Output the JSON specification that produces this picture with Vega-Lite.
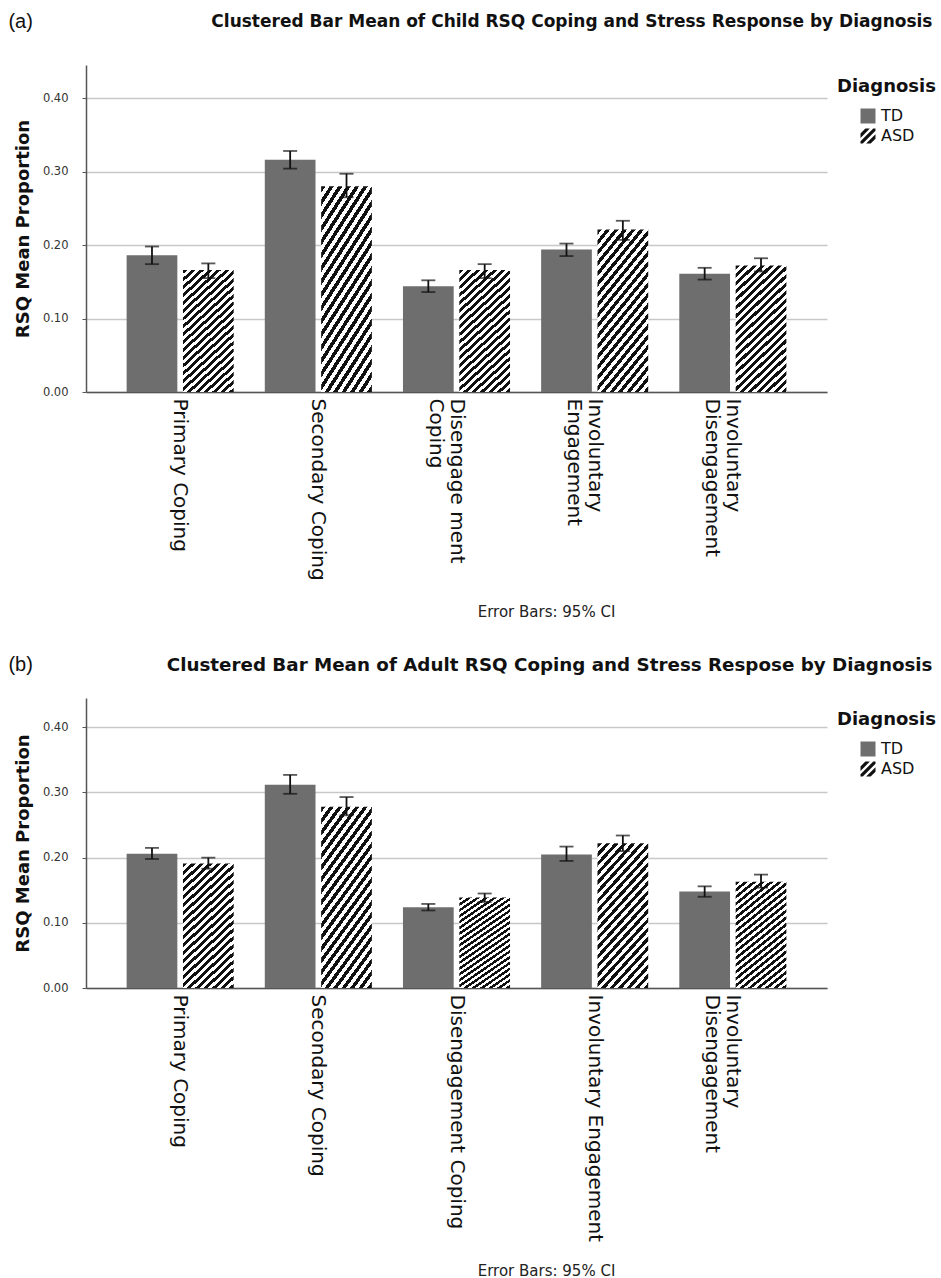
{
  "$schema": "https://vega.github.io/schema/vega-lite/v6.json",
  "background": "white",
  "padding": {"left": 8, "top": 12, "right": 0, "bottom": 0},
  "autosize": {"type": "pad"},
  "spacing": 36,
  "config": {
    "view": {"stroke": null},
    "font": "DejaVu Sans",
    "axisLeft": {"titleFontSize": 18, "titleFontWeight": "bold", "titleColor": "#111", "titlePadding": 10, "labelFontSize": 11.5, "labelColor": "#333", "labelPadding": 14, "tickSize": 4, "tickColor": "#555", "domainColor": "#555", "domainWidth": 1.5, "grid": true, "gridColor": "#c8c8c8", "gridWidth": 1.6},
    "axisBottom": {"titleFontSize": 15, "titleFontWeight": "normal", "titleColor": "#222", "titleAlign": "center", "titleBaseline": "alphabetic", "titleX": 460, "labelAngle": 90, "labelAlign": "left", "labelBaseline": "middle", "labelFontSize": 20, "labelColor": "#111", "labelLimit": 0, "labelPadding": 6, "labelLineHeight": 21, "ticks": false, "domainColor": "#555", "domainWidth": 1.5, "grid": false},
    "axisTop": {"labels": false, "ticks": false, "domain": false, "grid": false, "titleFontWeight": "bold", "titleColor": "#111", "titleAlign": "right", "titleBaseline": "alphabetic", "titleX": 846},
    "legend": {"orient": "none", "legendX": 751, "legendY": 13, "titleFontSize": 18, "titleFontWeight": "bold", "titleColor": "#111", "titlePadding": 12, "labelFontSize": 16, "labelColor": "#111", "symbolSize": 225, "symbolStrokeWidth": 0, "symbolOffset": 23, "labelOffset": 5, "rowPadding": 4, "padding": 0}
  },
  "resolve": {"scale": {"fill": "independent", "shape": "independent", "x": "independent", "y": "independent", "xOffset": "independent"}, "legend": {"fill": "independent", "shape": "independent"}},
  "datasets": {
    "child": [
      {"Category":"Primary Coping","Diagnosis":"TD","mean":0.186,"lo":0.174,"hi":0.198},
      {"Category":"Primary Coping","Diagnosis":"ASD","mean":0.166,"lo":0.155,"hi":0.175},
      {"Category":"Secondary Coping","Diagnosis":"TD","mean":0.316,"lo":0.304,"hi":0.328},
      {"Category":"Secondary Coping","Diagnosis":"ASD","mean":0.280,"lo":0.265,"hi":0.297},
      {"Category":"Disengagement Coping","Diagnosis":"TD","mean":0.144,"lo":0.136,"hi":0.152},
      {"Category":"Disengagement Coping","Diagnosis":"ASD","mean":0.166,"lo":0.155,"hi":0.174},
      {"Category":"Involuntary Engagement","Diagnosis":"TD","mean":0.194,"lo":0.185,"hi":0.202},
      {"Category":"Involuntary Engagement","Diagnosis":"ASD","mean":0.221,"lo":0.207,"hi":0.233},
      {"Category":"Involuntary Disengagement","Diagnosis":"TD","mean":0.161,"lo":0.153,"hi":0.169},
      {"Category":"Involuntary Disengagement","Diagnosis":"ASD","mean":0.172,"lo":0.164,"hi":0.182}
    ],
    "adult": [
      {"Category":"Primary Coping","Diagnosis":"TD","mean":0.206,"lo":0.198,"hi":0.215},
      {"Category":"Primary Coping","Diagnosis":"ASD","mean":0.191,"lo":0.183,"hi":0.200},
      {"Category":"Secondary Coping","Diagnosis":"TD","mean":0.312,"lo":0.298,"hi":0.327},
      {"Category":"Secondary Coping","Diagnosis":"ASD","mean":0.278,"lo":0.265,"hi":0.293},
      {"Category":"Disengagement Coping","Diagnosis":"TD","mean":0.124,"lo":0.119,"hi":0.129},
      {"Category":"Disengagement Coping","Diagnosis":"ASD","mean":0.139,"lo":0.132,"hi":0.145},
      {"Category":"Involuntary Engagement","Diagnosis":"TD","mean":0.205,"lo":0.195,"hi":0.217},
      {"Category":"Involuntary Engagement","Diagnosis":"ASD","mean":0.222,"lo":0.210,"hi":0.234},
      {"Category":"Involuntary Disengagement","Diagnosis":"TD","mean":0.148,"lo":0.140,"hi":0.156},
      {"Category":"Involuntary Disengagement","Diagnosis":"ASD","mean":0.163,"lo":0.154,"hi":0.174}
    ]
  },
  "vconcat": [
    {
      "title": {"text": "(a)", "anchor": "start", "frame": "bounds", "font": "Liberation Sans", "fontSize": 20, "fontWeight": "normal", "color": "#111", "offset": -20, "dx": -6},
      "width": 741,
      "height": 327,
      "data": {"name": "child"},
      "encoding": {
        "x": {"field": "Category", "type": "nominal", "sort": ["Primary Coping","Secondary Coping","Disengagement Coping","Involuntary Engagement","Involuntary Disengagement"], "scale": {"paddingInner": 0.225, "paddingOuter": 0.294}, "axis": null},
        "xOffset": {"field": "Diagnosis", "type": "nominal", "sort": ["TD","ASD"], "scale": {"domain": ["TD","ASD"], "paddingInner": 0.1, "paddingOuter": 0}}
      },
      "layer": [
        {
          "transform": [{"filter": "datum.Diagnosis === 'TD'"}],
          "mark": {"type": "bar"},
          "encoding": {
            "x": {"field": "Category", "type": "nominal", "sort": ["Primary Coping","Secondary Coping","Disengagement Coping","Involuntary Engagement","Involuntary Disengagement"], "scale": {"paddingInner": 0.225, "paddingOuter": 0.294},
              "axis": {"orient": "bottom", "title": "Error Bars: 95% CI", "titleY": 224,
                "labelExpr": "datum.label === 'Disengagement Coping' ? ['Disengage ment', 'Coping'] : datum.label === 'Involuntary Engagement' ? ['Involuntary', 'Engagement'] : datum.label === 'Involuntary Disengagement' ? ['Involuntary', 'Disengagement'] : datum.label"}},
            "y": {"field": "mean", "type": "quantitative", "scale": {"domain": [0, 0.445], "nice": false},
              "axis": {"title": "RSQ Mean Proportion", "values": [0, 0.1, 0.2, 0.3, 0.4], "format": ".2f"}},
            "fill": {"field": "Diagnosis", "type": "nominal", "scale": {"domain": ["TD","ASD"], "range": ["#6e6e6e", "#111111"]}, "legend": {"title": "Diagnosis"}}
          }
        },
        {
          "transform": [{"filter": "datum.Diagnosis === 'ASD'"}],
          "mark": {"type": "bar", "fill": {
          "gradient": "linear", "x1": 0, "y1": 0, "x2": 1, "y2": 2.6,
          "stops": [{"offset":0,"color":"#111"},{"offset":0.01075,"color":"#111"},{"offset":0.01075,"color":"#fff"},{"offset":0.0215,"color":"#fff"},
{"offset":0.0215,"color":"#111"},{"offset":0.03225,"color":"#111"},{"offset":0.03225,"color":"#fff"},{"offset":0.043,"color":"#fff"},
{"offset":0.043,"color":"#111"},{"offset":0.05375,"color":"#111"},{"offset":0.05375,"color":"#fff"},{"offset":0.0645,"color":"#fff"},
{"offset":0.0645,"color":"#111"},{"offset":0.07525,"color":"#111"},{"offset":0.07525,"color":"#fff"},{"offset":0.086,"color":"#fff"},
{"offset":0.086,"color":"#111"},{"offset":0.09675,"color":"#111"},{"offset":0.09675,"color":"#fff"},{"offset":0.1075,"color":"#fff"},
{"offset":0.1075,"color":"#111"},{"offset":0.11825,"color":"#111"},{"offset":0.11825,"color":"#fff"},{"offset":0.129,"color":"#fff"},
{"offset":0.129,"color":"#111"},{"offset":0.13975,"color":"#111"},{"offset":0.13975,"color":"#fff"},{"offset":0.1505,"color":"#fff"},
{"offset":0.1505,"color":"#111"},{"offset":0.16125,"color":"#111"},{"offset":0.16125,"color":"#fff"},{"offset":0.172,"color":"#fff"},
{"offset":0.172,"color":"#111"},{"offset":0.18275,"color":"#111"},{"offset":0.18275,"color":"#fff"},{"offset":0.1935,"color":"#fff"},
{"offset":0.1935,"color":"#111"},{"offset":0.20425,"color":"#111"},{"offset":0.20425,"color":"#fff"},{"offset":0.215,"color":"#fff"},
{"offset":0.215,"color":"#111"},{"offset":0.22575,"color":"#111"},{"offset":0.22575,"color":"#fff"},{"offset":0.2365,"color":"#fff"},
{"offset":0.2365,"color":"#111"},{"offset":0.24725,"color":"#111"},{"offset":0.24725,"color":"#fff"},{"offset":0.258,"color":"#fff"},
{"offset":0.258,"color":"#111"},{"offset":0.26875,"color":"#111"},{"offset":0.26875,"color":"#fff"},{"offset":0.2795,"color":"#fff"},
{"offset":0.2795,"color":"#111"},{"offset":0.29025,"color":"#111"},{"offset":0.29025,"color":"#fff"},{"offset":0.301,"color":"#fff"},
{"offset":0.301,"color":"#111"},{"offset":0.31175,"color":"#111"},{"offset":0.31175,"color":"#fff"},{"offset":0.3225,"color":"#fff"},
{"offset":0.3225,"color":"#111"},{"offset":0.33325,"color":"#111"},{"offset":0.33325,"color":"#fff"},{"offset":0.344,"color":"#fff"},
{"offset":0.344,"color":"#111"},{"offset":0.35475,"color":"#111"},{"offset":0.35475,"color":"#fff"},{"offset":0.3655,"color":"#fff"},
{"offset":0.3655,"color":"#111"},{"offset":0.37625,"color":"#111"},{"offset":0.37625,"color":"#fff"},{"offset":0.387,"color":"#fff"},
{"offset":0.387,"color":"#111"},{"offset":0.39775,"color":"#111"},{"offset":0.39775,"color":"#fff"},{"offset":0.4085,"color":"#fff"},
{"offset":0.4085,"color":"#111"},{"offset":0.41925,"color":"#111"},{"offset":0.41925,"color":"#fff"},{"offset":0.43,"color":"#fff"},
{"offset":0.43,"color":"#111"},{"offset":0.44075,"color":"#111"},{"offset":0.44075,"color":"#fff"},{"offset":0.4515,"color":"#fff"},
{"offset":0.4515,"color":"#111"},{"offset":0.46225,"color":"#111"},{"offset":0.46225,"color":"#fff"},{"offset":0.473,"color":"#fff"}]
          }},
          "encoding": {"y": {"field": "mean", "type": "quantitative", "scale": {"domain": [0, 0.445], "nice": false}, "axis": {"title": "RSQ Mean Proportion", "values": [0, 0.1, 0.2, 0.3, 0.4], "format": ".2f"}}}
        },
        {
          "transform": [{"filter": "false"}],
          "mark": {"type": "point", "filled": true, "opacity": 1},
          "encoding": {
            "y": {"field": "mean", "type": "quantitative", "scale": {"domain": [0, 0.445], "nice": false}, "axis": {"title": "RSQ Mean Proportion", "values": [0, 0.1, 0.2, 0.3, 0.4], "format": ".2f"}},
            "fill": {"field": "Diagnosis", "type": "nominal", "scale": {"domain": ["TD","ASD"], "range": ["#6e6e6e", "#111111"]}, "legend": {"title": "Diagnosis"}},
            "shape": {"field": "Diagnosis", "type": "nominal", "scale": {"domain": ["TD","ASD"], "range": ["square", "M-1,-0.35L-0.35,-1L0.25,-1L-1,0.25Z M0.7,-1L1,-1L1,-0.7L-0.7,1L-1,1L-1,0.7Z M1,-0.25L1,0.35L0.35,1L-0.25,1Z"]}, "legend": {"title": "Diagnosis"}}
          }
        },
        {
          "mark": {"type": "rule", "color": "#111", "strokeWidth": 1.8},
          "encoding": {
            "x": {"field": "Category", "type": "nominal", "sort": ["Primary Coping","Secondary Coping","Disengagement Coping","Involuntary Engagement","Involuntary Disengagement"], "scale": {"paddingInner": 0.225, "paddingOuter": 0.294},
              "axis": {"orient": "top", "title": "Clustered Bar Mean of Child RSQ Coping and Stress Response by Diagnosis", "titleFontSize": 17, "titleY": -39}},
            "y": {"field": "lo", "type": "quantitative", "scale": {"domain": [0, 0.445], "nice": false}, "axis": {"title": "RSQ Mean Proportion", "values": [0, 0.1, 0.2, 0.3, 0.4], "format": ".2f"}},
            "y2": {"field": "hi"}
          }
        },
        {
          "transform": [{"fold": ["lo", "hi"], "as": ["end", "val"]}],
          "mark": {"type": "tick", "color": "#111", "thickness": 1.8, "size": 14},
          "encoding": {"y": {"field": "val", "type": "quantitative", "scale": {"domain": [0, 0.445], "nice": false}, "axis": {"title": "RSQ Mean Proportion", "values": [0, 0.1, 0.2, 0.3, 0.4], "format": ".2f"}}}
        }
      ]
    },
    {
      "title": {"text": "(b)", "anchor": "start", "frame": "bounds", "font": "Liberation Sans", "fontSize": 20, "fontWeight": "normal", "color": "#111", "offset": -20, "dx": -6},
      "width": 741,
      "height": 290,
      "data": {"name": "adult"},
      "encoding": {
        "x": {"field": "Category", "type": "nominal", "sort": ["Primary Coping","Secondary Coping","Disengagement Coping","Involuntary Engagement","Involuntary Disengagement"], "scale": {"paddingInner": 0.225, "paddingOuter": 0.294}, "axis": null},
        "xOffset": {"field": "Diagnosis", "type": "nominal", "sort": ["TD","ASD"], "scale": {"domain": ["TD","ASD"], "paddingInner": 0.1, "paddingOuter": 0}}
      },
      "layer": [
        {
          "transform": [{"filter": "datum.Diagnosis === 'TD'"}],
          "mark": {"type": "bar"},
          "encoding": {
            "x": {"field": "Category", "type": "nominal", "sort": ["Primary Coping","Secondary Coping","Disengagement Coping","Involuntary Engagement","Involuntary Disengagement"], "scale": {"paddingInner": 0.225, "paddingOuter": 0.294},
              "axis": {"orient": "bottom", "title": "Error Bars: 95% CI", "titleY": 287,
                "labelExpr": "datum.label === 'Involuntary Disengagement' ? ['Involuntary', 'Disengagement'] : datum.label"}},
            "y": {"field": "mean", "type": "quantitative", "scale": {"domain": [0, 0.445], "nice": false},
              "axis": {"title": "RSQ Mean Proportion", "values": [0, 0.1, 0.2, 0.3, 0.4], "format": ".2f"}},
            "fill": {"field": "Diagnosis", "type": "nominal", "scale": {"domain": ["TD","ASD"], "range": ["#6e6e6e", "#111111"]}, "legend": {"title": "Diagnosis"}}
          }
        },
        {
          "transform": [{"filter": "datum.Diagnosis === 'ASD'"}],
          "mark": {"type": "bar", "fill": {
          "gradient": "linear", "x1": 0, "y1": 0, "x2": 1, "y2": 2.6,
          "stops": [{"offset":0,"color":"#111"},{"offset":0.01075,"color":"#111"},{"offset":0.01075,"color":"#fff"},{"offset":0.0215,"color":"#fff"},
{"offset":0.0215,"color":"#111"},{"offset":0.03225,"color":"#111"},{"offset":0.03225,"color":"#fff"},{"offset":0.043,"color":"#fff"},
{"offset":0.043,"color":"#111"},{"offset":0.05375,"color":"#111"},{"offset":0.05375,"color":"#fff"},{"offset":0.0645,"color":"#fff"},
{"offset":0.0645,"color":"#111"},{"offset":0.07525,"color":"#111"},{"offset":0.07525,"color":"#fff"},{"offset":0.086,"color":"#fff"},
{"offset":0.086,"color":"#111"},{"offset":0.09675,"color":"#111"},{"offset":0.09675,"color":"#fff"},{"offset":0.1075,"color":"#fff"},
{"offset":0.1075,"color":"#111"},{"offset":0.11825,"color":"#111"},{"offset":0.11825,"color":"#fff"},{"offset":0.129,"color":"#fff"},
{"offset":0.129,"color":"#111"},{"offset":0.13975,"color":"#111"},{"offset":0.13975,"color":"#fff"},{"offset":0.1505,"color":"#fff"},
{"offset":0.1505,"color":"#111"},{"offset":0.16125,"color":"#111"},{"offset":0.16125,"color":"#fff"},{"offset":0.172,"color":"#fff"},
{"offset":0.172,"color":"#111"},{"offset":0.18275,"color":"#111"},{"offset":0.18275,"color":"#fff"},{"offset":0.1935,"color":"#fff"},
{"offset":0.1935,"color":"#111"},{"offset":0.20425,"color":"#111"},{"offset":0.20425,"color":"#fff"},{"offset":0.215,"color":"#fff"},
{"offset":0.215,"color":"#111"},{"offset":0.22575,"color":"#111"},{"offset":0.22575,"color":"#fff"},{"offset":0.2365,"color":"#fff"},
{"offset":0.2365,"color":"#111"},{"offset":0.24725,"color":"#111"},{"offset":0.24725,"color":"#fff"},{"offset":0.258,"color":"#fff"},
{"offset":0.258,"color":"#111"},{"offset":0.26875,"color":"#111"},{"offset":0.26875,"color":"#fff"},{"offset":0.2795,"color":"#fff"},
{"offset":0.2795,"color":"#111"},{"offset":0.29025,"color":"#111"},{"offset":0.29025,"color":"#fff"},{"offset":0.301,"color":"#fff"},
{"offset":0.301,"color":"#111"},{"offset":0.31175,"color":"#111"},{"offset":0.31175,"color":"#fff"},{"offset":0.3225,"color":"#fff"},
{"offset":0.3225,"color":"#111"},{"offset":0.33325,"color":"#111"},{"offset":0.33325,"color":"#fff"},{"offset":0.344,"color":"#fff"},
{"offset":0.344,"color":"#111"},{"offset":0.35475,"color":"#111"},{"offset":0.35475,"color":"#fff"},{"offset":0.3655,"color":"#fff"},
{"offset":0.3655,"color":"#111"},{"offset":0.37625,"color":"#111"},{"offset":0.37625,"color":"#fff"},{"offset":0.387,"color":"#fff"},
{"offset":0.387,"color":"#111"},{"offset":0.39775,"color":"#111"},{"offset":0.39775,"color":"#fff"},{"offset":0.4085,"color":"#fff"},
{"offset":0.4085,"color":"#111"},{"offset":0.41925,"color":"#111"},{"offset":0.41925,"color":"#fff"},{"offset":0.43,"color":"#fff"},
{"offset":0.43,"color":"#111"},{"offset":0.44075,"color":"#111"},{"offset":0.44075,"color":"#fff"},{"offset":0.4515,"color":"#fff"},
{"offset":0.4515,"color":"#111"},{"offset":0.46225,"color":"#111"},{"offset":0.46225,"color":"#fff"},{"offset":0.473,"color":"#fff"}]
          }},
          "encoding": {"y": {"field": "mean", "type": "quantitative", "scale": {"domain": [0, 0.445], "nice": false}, "axis": {"title": "RSQ Mean Proportion", "values": [0, 0.1, 0.2, 0.3, 0.4], "format": ".2f"}}}
        },
        {
          "transform": [{"filter": "false"}],
          "mark": {"type": "point", "filled": true, "opacity": 1},
          "encoding": {
            "y": {"field": "mean", "type": "quantitative", "scale": {"domain": [0, 0.445], "nice": false}, "axis": {"title": "RSQ Mean Proportion", "values": [0, 0.1, 0.2, 0.3, 0.4], "format": ".2f"}},
            "fill": {"field": "Diagnosis", "type": "nominal", "scale": {"domain": ["TD","ASD"], "range": ["#6e6e6e", "#111111"]}, "legend": {"title": "Diagnosis"}},
            "shape": {"field": "Diagnosis", "type": "nominal", "scale": {"domain": ["TD","ASD"], "range": ["square", "M-1,-0.35L-0.35,-1L0.25,-1L-1,0.25Z M0.7,-1L1,-1L1,-0.7L-0.7,1L-1,1L-1,0.7Z M1,-0.25L1,0.35L0.35,1L-0.25,1Z"]}, "legend": {"title": "Diagnosis"}}
          }
        },
        {
          "mark": {"type": "rule", "color": "#111", "strokeWidth": 1.8},
          "encoding": {
            "x": {"field": "Category", "type": "nominal", "sort": ["Primary Coping","Secondary Coping","Disengagement Coping","Involuntary Engagement","Involuntary Disengagement"], "scale": {"paddingInner": 0.225, "paddingOuter": 0.294},
              "axis": {"orient": "top", "title": "Clustered Bar Mean of  Adult RSQ Coping and Stress Respose by Diagnosis", "titleFontSize": 18.3, "titleY": -28}},
            "y": {"field": "lo", "type": "quantitative", "scale": {"domain": [0, 0.445], "nice": false}, "axis": {"title": "RSQ Mean Proportion", "values": [0, 0.1, 0.2, 0.3, 0.4], "format": ".2f"}},
            "y2": {"field": "hi"}
          }
        },
        {
          "transform": [{"fold": ["lo", "hi"], "as": ["end", "val"]}],
          "mark": {"type": "tick", "color": "#111", "thickness": 1.8, "size": 14},
          "encoding": {"y": {"field": "val", "type": "quantitative", "scale": {"domain": [0, 0.445], "nice": false}, "axis": {"title": "RSQ Mean Proportion", "values": [0, 0.1, 0.2, 0.3, 0.4], "format": ".2f"}}}
        }
      ]
    }
  ]
}
